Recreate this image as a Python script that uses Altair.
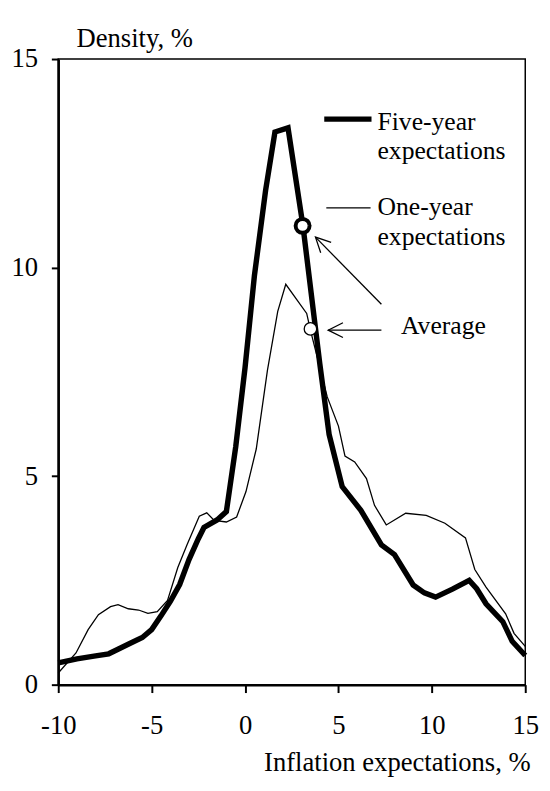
import altair as alt
import pandas as pd

# ---- data ----
five_x = [-10, -9, -8, -7.3, -6.8, -6.2, -5.5, -5.0, -4.5, -4.0, -3.5, -3.0, -2.5, -2.2, -1.5, -1.0,
          -0.5, 0.0, 0.5, 1.1, 1.6, 2.3, 3.1, 4.0, 4.5, 5.2, 6.2, 7.3, 8.0, 9.0, 9.6, 10.2, 11.1,
          12.0, 12.4, 12.9, 13.8, 14.3, 15.0]
five_y = [0.52, 0.62, 0.69, 0.74, 0.85, 0.98, 1.13, 1.32, 1.65, 2.0, 2.4, 3.0, 3.5, 3.77, 3.95, 4.15,
          5.7, 7.6, 9.8, 11.85, 13.25, 13.35, 11.0, 7.7, 6.0, 4.75, 4.18, 3.35, 3.12, 2.39, 2.2, 2.1, 2.29,
          2.5, 2.3, 1.94, 1.51, 1.04, 0.7]

one_x = [-10, -9.05, -8.4, -7.85, -7.2, -6.8, -6.25, -5.7, -5.2, -4.7, -4.15, -3.6, -3.1, -2.45, -2.05,
         -1.65, -1.0, -0.45, 0.05, 0.6, 1.2, 1.75, 2.18, 3.3, 3.5, 4.4, 5.0, 5.35, 5.87, 6.5, 6.93, 7.56,
         8.6, 9.7, 10.7, 11.8, 12.3, 12.9, 13.95, 14.4, 15.0]
one_y = [0.28, 0.76, 1.32, 1.68, 1.87, 1.92, 1.82, 1.79, 1.71, 1.75, 2.02, 2.81, 3.36, 4.04, 4.12,
         3.94, 3.9, 4.02, 4.63, 5.65, 7.54, 8.95, 9.6, 8.9, 8.5, 6.9, 6.2, 5.48, 5.34, 4.94, 4.3, 3.83,
         4.11, 4.06, 3.87, 3.52, 2.76, 2.34, 1.7, 1.23, 0.92]

x_ticks = [-10, -5, 0, 5, 10, 15]
y_ticks = [0, 5, 10, 15]

avg_five = [3.08, 11.0]
avg_one = [3.5, 8.53]

legend_labels = ["Five-year", "expectations", "One-year", "expectations", "Average"]
legend_label_x = [7.09, 7.09, 7.09, 7.09, 8.35]
legend_label_y = [13.30, 12.61, 11.26, 10.55, 8.41]

legend_line_x = [4.24, 4.35]
legend_line_x2 = [6.77, 6.72]
legend_line_y = [13.56, 11.43]
legend_line_w = [5.5, 1.3]

arrow_x = [7.3, 7.3]
arrow_y = [9.12, 8.5]
arrow_x2 = [3.77, 4.45]
arrow_y2 = [10.73, 8.5]
arrow_angle = [225, 180]

FONT = "Liberation Serif"
FS = 27
FS_TXT = 26

five = pd.DataFrame({"x": five_x, "y": five_y, "o": range(len(five_x))})
one = pd.DataFrame({"x": one_x, "y": one_y, "o": range(len(one_x))})

xs = alt.Scale(domain=[-10, 15], nice=False, zero=False)
ys = alt.Scale(domain=[0, 15], nice=False, zero=False)

x_axis = alt.Axis(values=x_ticks, title="Inflation expectations, %", grid=False,
                  domainColor="black", domainWidth=2.5, tickColor="black", tickWidth=2, tickSize=8,
                  labelFont=FONT, labelFontSize=FS, labelColor="black", labelPadding=21,
                  labelFlush=False, labelOverlap=False, labelExpr="'' + datum.value",
                  titleFont=FONT, titleFontSize=FS, titleFontWeight="normal", titleColor="black",
                  titleX=479, titleY=87, titleAlign="right", titleBaseline="alphabetic")
y_axis = alt.Axis(values=y_ticks, title="Density, %", grid=False,
                  domainColor="black", domainWidth=2.5, tickColor="black", tickWidth=2, tickSize=7,
                  labelFont=FONT, labelFontSize=FS, labelColor="black", labelPadding=14,
                  labelFlush=False, labelOverlap=False, labelExpr="'' + datum.value",
                  titleFont=FONT, titleFontSize=FS, titleFontWeight="normal", titleColor="black",
                  titleAngle=0, titleX=18, titleY=-13, titleAlign="left", titleBaseline="alphabetic")


def X(field="x"):
    return alt.X(field, type="quantitative", scale=xs, axis=x_axis)


def Y(field="y"):
    return alt.Y(field, type="quantitative", scale=ys, axis=y_axis)


thin = alt.Chart(one).mark_line(color="black", strokeWidth=1.3).encode(x=X(), y=Y(), order="o:Q")
thick = alt.Chart(five).mark_line(color="black", strokeWidth=5.5).encode(x=X(), y=Y(), order="o:Q")

c_five = alt.Chart(pd.DataFrame({"x": [avg_five[0]], "y": [avg_five[1]]})).mark_point(
    shape="circle", filled=True, fill="white", stroke="black", strokeWidth=4, size=200, opacity=1
).encode(x=X(), y=Y())
c_one = alt.Chart(pd.DataFrame({"x": [avg_one[0]], "y": [avg_one[1]]})).mark_point(
    shape="circle", filled=True, fill="white", stroke="black", strokeWidth=1.3, size=160, opacity=1
).encode(x=X(), y=Y())

leg_df = pd.DataFrame({"x": legend_line_x, "x2": legend_line_x2, "y": legend_line_y, "w": legend_line_w})
leg_lines = alt.Chart(leg_df).mark_rule(color="black").encode(
    x=X(), x2="x2", y=Y(), strokeWidth=alt.StrokeWidth("w:Q", scale=None, legend=None)
)

txt_df = pd.DataFrame({"x": legend_label_x, "y": legend_label_y, "t": legend_labels})
texts = alt.Chart(txt_df).mark_text(
    font=FONT, fontSize=FS_TXT, color="black", align="left", baseline="alphabetic"
).encode(x=X(), y=Y(), text="t")

arr_df = pd.DataFrame({"x": arrow_x, "y": arrow_y, "x2": arrow_x2, "y2": arrow_y2, "a": arrow_angle})
shafts = alt.Chart(arr_df).mark_rule(color="black", strokeWidth=1.3).encode(
    x=X(), y=Y(), x2="x2", y2="y2"
)
heads = alt.Chart(arr_df).mark_point(
    shape="M -1 -0.5 L 0 0 L -1 0.5", filled=False, stroke="black", strokeWidth=1.3, size=900, opacity=1
).encode(x=X("x2"), y=Y("y2"), angle=alt.Angle("a:Q", scale=None))

chart = alt.layer(thin, thick, c_five, c_one, leg_lines, texts, shafts, heads).properties(
    width=474, height=635,
    padding={"left": 51, "top": 46, "right": 17, "bottom": 94},
    autosize=alt.AutoSizeParams(type="none"),
    background="white",
).configure_view(stroke="black", strokeWidth=1.5)

chart.save("out.html", embed_options={"renderer": "svg", "actions": False})
